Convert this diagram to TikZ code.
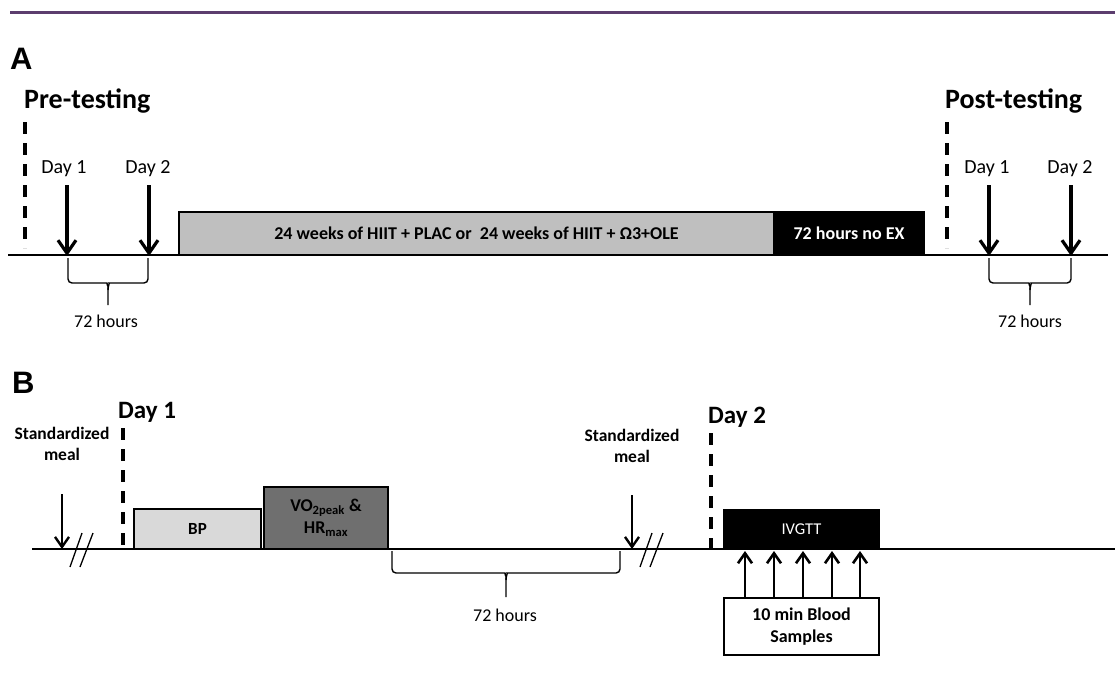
\documentclass[tikz,border=0pt]{standalone}
\usepackage{fontspec}
\setmainfont{Carlito}
\newfontfamily\panelfont{Liberation Sans}
\usetikzlibrary{arrows.meta,calc}
\definecolor{topline}{HTML}{5C3D6E}
\definecolor{boxgray}{HTML}{BFBFBF}
\definecolor{bpgray}{HTML}{D9D9D9}
\definecolor{vogray}{HTML}{6F6F6F}
\begin{document}
\begin{tikzpicture}[x=1pt,y=-1pt,
  axis/.style={line width=1.5pt},
  vdash/.style={line width=3.5pt, dash pattern=on 12pt off 9pt},
  bigarrow/.style={line width=3.2pt, -{Straight Barb[length=13pt,width=18pt]}},
  smallarrow/.style={line width=2.4pt, -{Straight Barb[length=10pt,width=14pt]}},
  uparrow/.style={line width=2.6pt, -{Straight Barb[length=10pt,width=14pt]}},
  bracket/.style={line width=1.4pt, rounded corners=4pt},
  breakmark/.style={line width=1.3pt},
  blk/.style={draw=black, line width=1.2pt, outer sep=0pt, inner sep=0pt},
  panel/.style={font=\panelfont\bfseries\fontsize{31}{33}\selectfont, anchor=base west, inner sep=0pt},
  phase/.style={font=\bfseries\fontsize{28}{30}\selectfont, anchor=base west, inner sep=0pt},
  daylab/.style={font=\fontsize{20}{22}\selectfont, anchor=base, inner sep=0pt},
  dayb/.style={font=\bfseries\fontsize{25}{27}\selectfont, anchor=base west, inner sep=0pt},
  hours/.style={font=\fontsize{18}{20}\selectfont, anchor=base, inner sep=0pt},
  meal/.style={font=\bfseries\fontsize{17.5}{21}\selectfont, align=center, anchor=base, inner sep=0pt}
]
\useasboundingbox (0,0) rectangle (1115,674);
% top rule
\coordinate (tl) at (10,13);
\coordinate (tr) at (1115,13);
\draw[topline, line width=3pt] (tl) -- (tr);

% ================= Panel A =================
\node[panel] (A) at (10,70) {A};
\coordinate (aL) at (8,255);
\coordinate (aR) at (1108,255);
\draw[axis] (aL) -- (aR);

\node[phase] (pre) at (24,109) {Pre-testing};
\coordinate (preT) at (25,122);
\coordinate (preB) at (25,248);
\draw[vdash] (preT) -- (preB);

\node[daylab] (pd1) at (64,173) {Day 1};
\node[daylab] (pd2) at (148,173) {Day 2};
\coordinate (pd1t) at (67,185); \coordinate (pd1b) at (67,256);
\coordinate (pd2t) at (149,185); \coordinate (pd2b) at (149,256);
\draw[bigarrow] (pd1t) -- (pd1b);
\draw[bigarrow] (pd2t) -- (pd2b);
\draw[bracket] (68,258) |- (103,283) to[out=0,in=90] (108,290) -- (108,305);
\draw[bracket] (148,258) |- (113,283) to[out=180,in=90] (108,290);
\node[hours] (ph) at (106,327) {72 hours};

\node[blk, fill=boxgray, minimum width=595pt, minimum height=43pt,
      font=\bfseries\fontsize{18}{20}\selectfont] (train) at (476.5,233.5)
      {24 weeks of HIIT + PLAC or \ 24 weeks of HIIT + Ω3+OLE};
\node[blk, fill=black, text=white, minimum width=150pt, minimum height=43pt,
      font=\bfseries\fontsize{18}{20}\selectfont] (noex) at (849,233.5)
      {72 hours no EX};

\node[phase] (post) at (945,109) {Post-testing};
\coordinate (postT) at (947,122);
\coordinate (postB) at (947,248);
\draw[vdash] (postT) -- (postB);

\node[daylab] (qd1) at (987,173) {Day 1};
\node[daylab] (qd2) at (1070,173) {Day 2};
\coordinate (qd1t) at (989,185); \coordinate (qd1b) at (989,256);
\coordinate (qd2t) at (1071,185); \coordinate (qd2b) at (1071,256);
\draw[bigarrow] (qd1t) -- (qd1b);
\draw[bigarrow] (qd2t) -- (qd2b);
\draw[bracket] (989,258) |- (1025,283) to[out=0,in=90] (1030,290) -- (1030,305);
\draw[bracket] (1071,258) |- (1035,283) to[out=180,in=90] (1030,290);
\node[hours] (qh) at (1030,327) {72 hours};

% ================= Panel B =================
\node[panel] (B) at (12,393) {B};
\coordinate (bL) at (32,549);
\coordinate (bR) at (1115,549);
\draw[axis] (bL) -- (bR);

\node[dayb] (bd1) at (118,418) {Day 1};
\coordinate (bd1t) at (123,428); \coordinate (bd1b) at (123,553);
\draw[vdash] (bd1t) -- (bd1b);

\node[meal] (m1) at (62,460) {Standardized\\meal};
\coordinate (m1t) at (62,494); \coordinate (m1b) at (62,549);
\draw[smallarrow] (m1t) -- (m1b);
\draw[breakmark] (70,567) -- (82,533);
\draw[breakmark] (80,567) -- (93,533);

\node[blk, fill=bpgray, minimum width=127pt, minimum height=40pt,
      font=\bfseries\fontsize{17}{19}\selectfont] (bp) at (197.5,529) {BP};
\node[blk, fill=vogray, minimum width=124pt, minimum height=62pt, align=center,
      font=\bfseries\fontsize{18}{22}\selectfont] (vo) at (326,518)
      {VO\textsubscript{2peak} \&\\HR\textsubscript{max}};

\draw[bracket] (392,551) |- (501,573) to[out=0,in=90] (506,580) -- (506,597);
\draw[bracket] (620,551) |- (511,573) to[out=180,in=90] (506,580);
\node[hours] (bh) at (505,621) {72 hours};

\node[meal] (m2) at (632,462) {Standardized\\meal};
\coordinate (m2t) at (632,495); \coordinate (m2b) at (632,549);
\draw[smallarrow] (m2t) -- (m2b);
\draw[breakmark] (640,567) -- (652,533);
\draw[breakmark] (650,567) -- (663,533);

\node[dayb] (bd2) at (708,423) {Day 2};
\coordinate (bd2t) at (711,433); \coordinate (bd2b) at (711,556);
\draw[vdash] (bd2t) -- (bd2b);

\node[blk, fill=black, text=white, minimum width=155pt, minimum height=39pt,
      font=\fontsize{16.5}{18}\selectfont] (ivgtt) at (801.5,529.5) {IVGTT};
\node[blk, fill=white, minimum width=155pt, minimum height=57pt, align=center,
      font=\bfseries\fontsize{18}{22}\selectfont] (blood) at (801.5,626.5)
      {10 min Blood\\Samples};
\foreach \x/\n in {745/s1,774/s2,803/s3,832/s4,860/s5}{
  \coordinate (\n b) at (\x,598);
  \coordinate (\n t) at (\x,551);
  \draw[uparrow] (\n b) -- (\n t);
}
\end{tikzpicture}
\end{document}
